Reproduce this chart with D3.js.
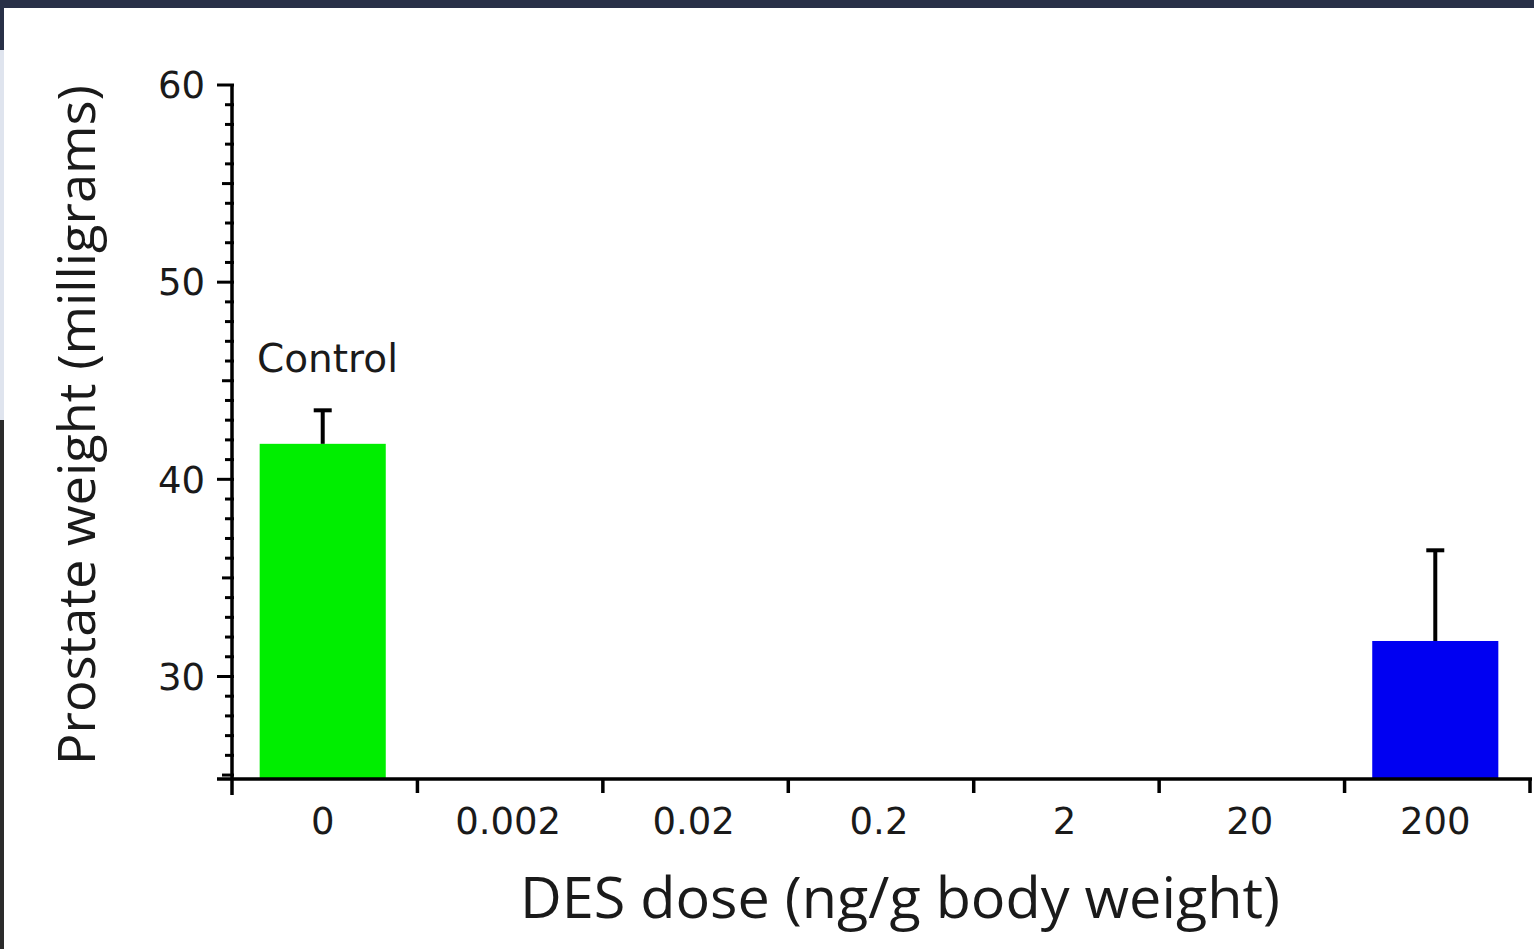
<!DOCTYPE html>
<html>
<head>
<meta charset="utf-8">
<script src="https://cdn.jsdelivr.net/npm/d3@7"></script>
<style>
  body { margin: 0; background: #ffffff; overflow: hidden; }
  text { font-family: "Open Sans", "Noto Sans", sans-serif; fill: #1a1a1a; }
  .ylabel, .xlabel, .note { font-family: "DejaVu Sans", sans-serif; }
</style>
</head>
<body>
<div class="chart"></div>
<script>
// values
var doses = ["0", "0.002", "0.02", "0.2", "2", "20", "200"];
var weights = [41.8, null, null, null, null, null, 31.8];
var errors = [1.7, null, null, null, null, null, 4.6];
var barColors = ["#00ee00", null, null, null, null, null, "#0000f2"];
var yTicks = [30, 40, 50, 60];

var width = 1534,
  height = 949,
  axisLeft = 232,
  axisRight = 1530,
  axisTop = 85,
  axisBottom = 779;

var svg = d3.select(".chart")
  .append("svg")
  .attr("width", width)
  .attr("height", height);

// slide frame: dark strip on top and left edge
svg.append("rect").attr("x", 0).attr("y", 0).attr("width", width).attr("height", 8).attr("fill", "#283047");
svg.append("rect").attr("x", 0).attr("y", 0).attr("width", 4).attr("height", 50).attr("fill", "#283047");
svg.append("rect").attr("x", 0).attr("y", 50).attr("width", 4).attr("height", 370).attr("fill", "#dfe4ee");
svg.append("rect").attr("x", 0).attr("y", 420).attr("width", 4).attr("height", height - 420).attr("fill", "#2b2b2b");

var xScale = d3.scaleBand().domain(doses).range([axisLeft, axisRight]);
var yScale = d3.scaleLinear().domain([24.8, 60]).range([axisBottom, axisTop]);

var barWidth = xScale.bandwidth() * 0.68;

var data = doses.map((d, i) => ({dose: d, value: weights[i], err: errors[i], color: barColors[i]}))
  .filter(d => d.value != null);

// bars
svg.selectAll(".bar")
  .data(data)
  .enter().append("rect")
  .attr("class", "bar")
  .attr("x", d => xScale(d.dose) + (xScale.bandwidth() - barWidth) / 2 - 2)
  .attr("y", d => yScale(d.value))
  .attr("width", barWidth)
  .attr("height", d => yScale(24.8) - yScale(d.value))
  .style("fill", d => d.color);

// error bars (upper only)
var err = svg.selectAll(".err")
  .data(data)
  .enter().append("g")
  .attr("class", "err")
  .attr("transform", d => `translate(${xScale(d.dose) + xScale.bandwidth() / 2 - 2},0)`);

err.append("line")
  .attr("y1", d => yScale(d.value))
  .attr("y2", d => yScale(d.value + d.err))
  .attr("stroke", "#000").attr("stroke-width", 4);

err.append("line")
  .attr("x1", -9).attr("x2", 9)
  .attr("y1", d => yScale(d.value + d.err))
  .attr("y2", d => yScale(d.value + d.err))
  .attr("stroke", "#000").attr("stroke-width", 4);

// Y axis: minor ticks every unit, medium at fives, major at tens
var minor = d3.range(25, 61);
svg.selectAll(".ytick")
  .data(minor)
  .enter().append("line")
  .attr("class", "ytick")
  .attr("x1", d => axisLeft - (d % 10 === 0 ? 15 : d % 5 === 0 ? 10 : 7))
  .attr("x2", axisLeft + 2)
  .attr("y1", d => yScale(d))
  .attr("y2", d => yScale(d))
  .attr("stroke", "#000")
  .attr("stroke-width", 3);

svg.append("line")
  .attr("x1", axisLeft).attr("x2", axisLeft)
  .attr("y1", axisTop - 1).attr("y2", axisBottom + 16)
  .attr("stroke", "#000").attr("stroke-width", 3.5);

svg.selectAll(".ylabel")
  .data(yTicks)
  .enter().append("text")
  .attr("class", "ylabel")
  .attr("x", 205)
  .attr("y", d => yScale(d))
  .attr("dy", "0.36em")
  .attr("text-anchor", "end")
  .style("font-size", "37px")
  .text(d => d);

// X axis
svg.append("line")
  .attr("x1", 217).attr("x2", axisRight + 2)
  .attr("y1", axisBottom).attr("y2", axisBottom)
  .attr("stroke", "#000").attr("stroke-width", 3.5);

var bounds = doses.map(d => xScale(d)).concat([axisRight]).slice(1);
svg.selectAll(".xtick")
  .data(bounds)
  .enter().append("line")
  .attr("class", "xtick")
  .attr("x1", d => d).attr("x2", d => d)
  .attr("y1", axisBottom).attr("y2", axisBottom + 14)
  .attr("stroke", "#000").attr("stroke-width", 3.5);

svg.selectAll(".xlabel")
  .data(doses)
  .enter().append("text")
  .attr("class", "xlabel")
  .attr("x", d => xScale(d) + xScale.bandwidth() / 2 - 2)
  .attr("y", 834)
  .attr("text-anchor", "middle")
  .style("font-size", "37px")
  .text(d => d);

// titles
svg.append("text")
  .attr("text-anchor", "middle")
  .attr("x", 900)
  .attr("y", 918)
  .attr("textLength", 760)
  .attr("lengthAdjust", "spacingAndGlyphs")
  .style("font-size", "56px")
  .text("DES dose (ng/g body weight)");

svg.append("text")
  .attr("text-anchor", "middle")
  .attr("transform", "translate(95,425)rotate(-90)")
  .attr("textLength", 680)
  .attr("lengthAdjust", "spacingAndGlyphs")
  .style("font-size", "52px")
  .text("Prostate weight (milligrams)");

svg.append("text")
  .attr("class", "note")
  .attr("x", 257)
  .attr("y", 372)
  .style("font-size", "39px")
  .text("Control");
</script>
</body>
</html>
